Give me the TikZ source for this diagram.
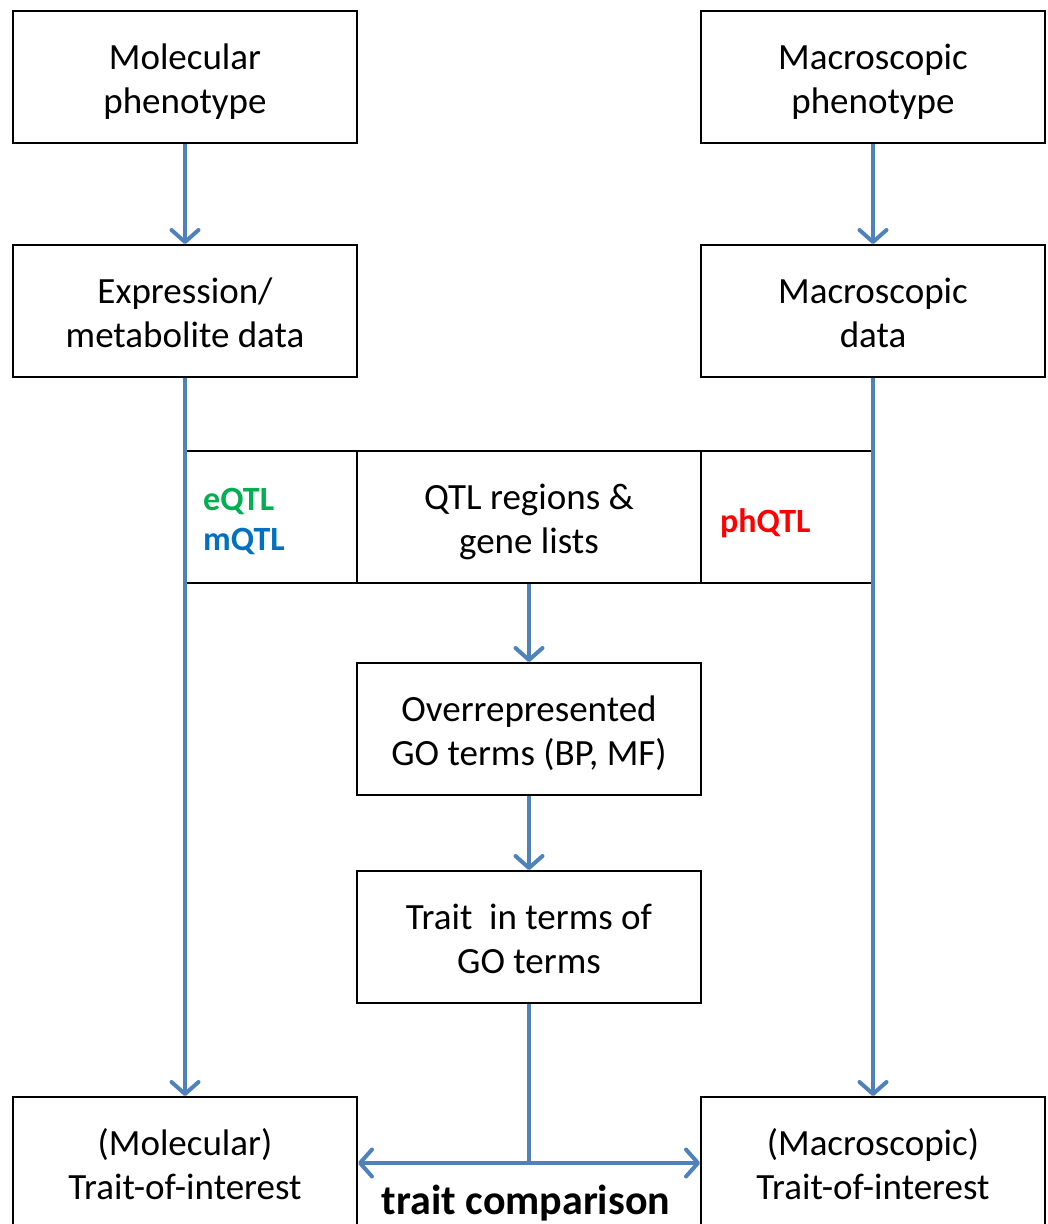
\documentclass[tikz,border=0pt]{standalone}
\usepackage{fontspec}
\setmainfont{Carlito}
\usetikzlibrary{arrows.meta}
\definecolor{lineblue}{HTML}{4F81BD}
\definecolor{qgreen}{HTML}{00B050}
\definecolor{qblue}{HTML}{0070C0}
\definecolor{qred}{HTML}{FF0000}
\begin{document}
\begin{tikzpicture}[x=1pt,y=-1pt,
  box/.style={draw=black, line width=2pt, minimum width=344pt, minimum height=132pt,
    inner sep=0pt},
  cell/.style={box, minimum width=#1},
  txt/.style={font=\fontsize{37}{44}\selectfont, inner sep=0pt, yshift=-5.5pt},
  lbl/.style={label={[txt]center:{\begin{tabular}{@{}c@{}}#1\end{tabular}}}},
  conn/.style={draw=lineblue, line width=4pt},
  barb/.tip={Straight Barb[length=12pt,width=27pt,round]},
  tip/.style={-barb},
  qlabel/.style={font=\fontsize{34}{40}\selectfont\bfseries, align=left, inner sep=0pt}]
\useasboundingbox (0,0) rectangle (1048,1224);
\clip (0,0) rectangle (1048,1224);

\node[box, lbl={Molecular\\phenotype}] (mol) at (185,77) {};
\node[box, lbl={Macroscopic\\phenotype}] (macP) at (873,77) {};
\node[box, lbl={Expression/\\metabolite data}] (expr) at (185,311) {};
\node[box, lbl={Macroscopic\\data}] (macD) at (873,311) {};
\node[cell=171pt] (qL) at (271.5,517) {};
\node[cell=344pt, lbl={QTL regions \&\\gene lists}] (qtl) at (529,517) {};
\node[cell=172pt] (qR) at (787,517) {};
\node[qlabel, anchor=west] (eq) at (203,501) {\textcolor{qgreen}{eQTL}};
\node[qlabel, anchor=west] (mq) at (203,541) {\textcolor{qblue}{mQTL}};
\node[qlabel, anchor=west] (ph) at (720,523) {\textcolor{qred}{phQTL}};
\node[box, lbl={Overrepresented\\GO terms (BP, MF)}] (over) at (529,729) {};
\node[box, lbl={Trait~ in terms of\\GO terms}] (trait) at (529,937) {};
\node[box, lbl={(Molecular)\\Trait-of-interest}] (molT) at (185,1163) {};
\node[box, lbl={(Macroscopic)\\Trait-of-interest}] (macT) at (873,1163) {};
\node[font=\fontsize{42}{48}\selectfont\bfseries, inner sep=0pt] (cmp) at (526,1203) {trait comparison};

\draw[conn, tip] (mol.south) -- (expr.north);
\draw[conn, tip] (macP.south) -- (macD.north);
\draw[conn, tip] (expr.south) -- (molT.north);
\draw[conn, tip] (macD.south) -- (macT.north);
\draw[conn, tip] (qtl.south) -- (over.north);
\draw[conn, tip] (over.south) -- (trait.north);
\draw[conn] (trait.south) -- (trait.south |- molT.east);
\draw[conn, barb-barb] (molT.east) -- (macT.west);
\end{tikzpicture}
\end{document}
